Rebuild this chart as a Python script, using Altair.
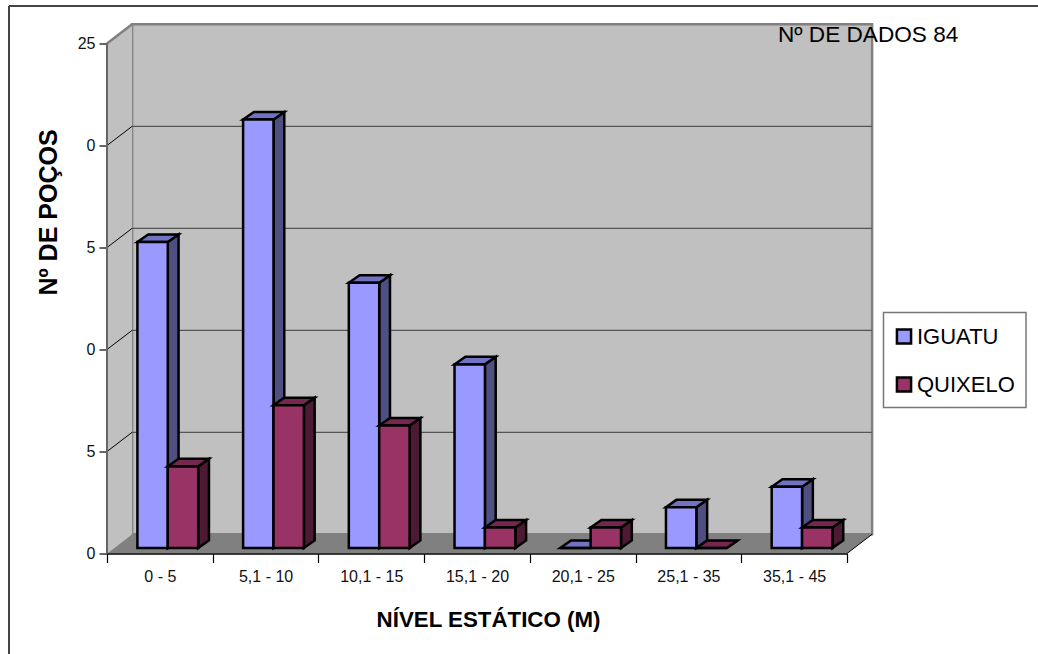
import altair as alt
import pandas as pd

# Well counts per static-level class
classes = ["0 - 5", "5,1 - 10", "10,1 - 15", "15,1 - 20", "20,1 - 25", "25,1 - 35", "35,1 - 45"]
iguatu = [15, 21, 13, 9, 0, 2, 3]
quixelo = [4, 7, 6, 1, 1, 0, 1]
series_names = ["IGUATU", "QUIXELO"]
y_ticks = [0, 5, 10, 15, 20, 25]

# Pseudo-3D geometry, in scale units (x: one class = 1, y: one well = 1)
WALL_DX, WALL_DY = 0.2375, 0.94
BAR_LEFT, BAR_W = 0.2875, 0.2875
BAR_DX, BAR_DY = 0.102, 0.37
BAR_BASE = 0.27

PW, PH = 740, 510
XS = alt.Scale(domain=[0, 7], nice=False, zero=False)
YS = alt.Scale(domain=[0, 25], nice=False, zero=False)
X = alt.X("x:Q", scale=XS)
Y = alt.Y("y:Q", scale=YS)
FONT = "Liberation Sans"

face_colours = {
    "IGUATU": {"front": "#9999ff", "side": "#4f4f82", "top": "#7272c4"},
    "QUIXELO": {"front": "#993366", "side": "#4d1a33", "top": "#752750"},
}


def bar_tables(name, values, slot):
    """Return the front, side and top faces of one series as tables."""
    front, side, top = [], [], []
    for i, v in enumerate(values):
        x0 = i + BAR_LEFT + slot * BAR_W
        x1 = x0 + BAR_W
        t = BAR_BASE + v
        front.append({"x": x0, "x2": x1, "y": BAR_BASE, "y2": t, "series": name})
        side += [
            {"id": i, "x": x1, "y": BAR_BASE, "y2": t},
            {"id": i, "x": x1 + BAR_DX, "y": BAR_BASE + BAR_DY, "y2": t + BAR_DY},
        ]
        top += [
            {"id": i, "y": t, "x": x0, "x2": x1},
            {"id": i, "y": t + BAR_DY, "x": x0 + BAR_DX, "x2": x1 + BAR_DX},
        ]
    return pd.DataFrame(front), pd.DataFrame(side), pd.DataFrame(top)


def bar_layers(name, values, slot):
    front, side, top = bar_tables(name, values, slot)
    edge = {"stroke": "black", "strokeWidth": 2.5, "strokeJoin": "miter"}
    colours = face_colours[name]
    return [
        alt.Chart(side).mark_area(fill=colours["side"], **edge).encode(
            x=X, y=Y, y2="y2:Q", detail="id:N"),
        alt.Chart(top).mark_area(orient="horizontal", fill=colours["top"], **edge).encode(
            y=Y, x=X, x2="x2:Q", detail="id:N"),
        alt.Chart(front).mark_rect(**edge).encode(
            x=X, x2="x2:Q", y=Y, y2="y2:Q",
            fill=alt.Fill(
                "series:N",
                scale=alt.Scale(domain=series_names, range=["#9999ff", "#993366"]),
                legend=alt.Legend(
                    title=None, orient="none", legendX=786, legendY=282, padding=0,
                    symbolType="square", symbolSize=200,
                    symbolStrokeColor="black", symbolStrokeWidth=2.5,
                    labelFont=FONT, labelFontSize=22, labelColor="black",
                    labelOffset=2, rowPadding=22, labelLimit=200,
                ),
            ),
        ),
    ]


# Axes live on an otherwise empty layer sharing the position scales
axes = alt.Chart(pd.DataFrame({"x": [0, 7], "y": [0, 25]})).mark_point(opacity=0).encode(
    x=alt.X("x:Q", scale=XS, axis=alt.Axis(
        values=list(range(8)), title="NÍVEL ESTÁTICO (M)", titleFont=FONT, titleFontSize=22.3,
        titleFontWeight="bold", titleX=381, titleY=55, titleColor="black",
        labelExpr=f"{classes!r}[datum.value] || ''", labelOffset=52.86, labelFont=FONT,
        labelFontSize=16, labelColor="#111111", labelPadding=6, labelFlush=False,
        labelOverlap=False, grid=False, domainColor="black", domainWidth=1.5,
        tickColor="black", tickSize=9, tickWidth=1.2, zindex=1,
    )),
    y=alt.Y("y:Q", scale=YS, axis=alt.Axis(
        values=y_ticks, title="Nº DE POÇOS", titleFont=FONT, titleFontSize=25,
        titleFontWeight="bold", titleColor="black", titleX=-46, titleY=168.5,
        labelFont=FONT, labelFontSize=16, labelColor="#111111", labelPadding=4,
        format="d", grid=False, domain=False, tickColor="black", tickSize=8, tickWidth=1.2,
    )),
)

# Chart-area frame: only its top and left edges fall on the page
frame_top = alt.Chart(pd.DataFrame({"k": [0]})).mark_rule(color="#444444", strokeWidth=2).encode(
    x=alt.value(-98), x2=alt.value(931), y=alt.value(-37.5))
frame_left = alt.Chart(pd.DataFrame({"k": [0]})).mark_rule(color="#444444", strokeWidth=2).encode(
    x=alt.value(-98), y=alt.value(-37.5), y2=alt.value(610.5))

# Back wall, side wall and floor
back_wall = alt.Chart(pd.DataFrame({
    "x": [WALL_DX], "x2": [7 + WALL_DX], "y": [WALL_DY], "y2": [25 + WALL_DY],
})).mark_rect(fill="#c0c0c0", stroke="#808080", strokeWidth=2.5).encode(
    x=X, x2="x2:Q", y=Y, y2="y2:Q")

side_wall = alt.Chart(pd.DataFrame({
    "x": [0, WALL_DX], "y": [0, WALL_DY], "y2": [25, 25 + WALL_DY],
})).mark_area(fill="#c0c0c0").encode(x=X, y=Y, y2="y2:Q")

floor = alt.Chart(pd.DataFrame({
    "y": [0, WALL_DY], "x": [0, WALL_DX], "x2": [7, 7 + WALL_DX],
})).mark_area(orient="horizontal", fill="#808080").encode(y=Y, x=X, x2="x2:Q")

# Gridlines along the back wall and their continuation across the side wall
grid_levels = pd.DataFrame({"level": y_ticks[1:-1]})
back_grid = alt.Chart(grid_levels).transform_calculate(
    y=f"datum.level + {WALL_DY}", x=f"{WALL_DX}", x2=f"{7 + WALL_DX}"
).mark_rule(color="#555555", strokeWidth=1.3).encode(x=X, x2="x2:Q", y=Y)

diag_rows = []
for level in y_ticks[1:-1]:
    diag_rows += [{"id": level, "x": 0, "y": level}, {"id": level, "x": WALL_DX, "y": level + WALL_DY}]
side_grid = alt.Chart(pd.DataFrame(diag_rows)).mark_line(color="black", strokeWidth=1).encode(
    x=X, y=Y, detail="id:N")

top_edge = alt.Chart(pd.DataFrame({"x": [0, WALL_DX], "y": [25, 25 + WALL_DY]})).mark_line(
    color="#808080", strokeWidth=2.5).encode(x=X, y=Y)

y_line = alt.Chart(pd.DataFrame({"x": [0], "y": [0], "y2": [25]})).mark_rule(
    color="#666666", strokeWidth=2).encode(x=X, y=Y, y2="y2:Q")

floor_edge = alt.Chart(pd.DataFrame({"x": [7, 7 + WALL_DX], "y": [0, WALL_DY]})).mark_line(
    color="black", strokeWidth=1).encode(x=X, y=Y)

# The title box of the value axis sits over the leading digits of its labels
title_box = alt.Chart(pd.DataFrame({"k": [0]})).mark_rect(fill="white").encode(
    x=alt.value(-43), x2=alt.value(-21), y=alt.value(80), y2=alt.value(325))

legend_box = alt.Chart(pd.DataFrame({"k": [0]})).mark_rect(
    fill="white", stroke="#777777", strokeWidth=1.5
).encode(x=alt.value(776.5), x2=alt.value(919), y=alt.value(269), y2=alt.value(364))

note = alt.Chart(pd.DataFrame({"t": ["Nº DE DADOS 84"]})).mark_text(
    font=FONT, fontSize=22.6, color="black", align="left", baseline="middle"
).encode(x=alt.value(671), y=alt.value(-8.5), text="t:N")

layers = [axes, frame_top, frame_left, title_box, back_wall, side_wall, floor, back_grid,
          side_grid, top_edge, y_line, floor_edge, legend_box]
layers += bar_layers("IGUATU", iguatu, 0)
layers += bar_layers("QUIXELO", quixelo, 1)
layers.append(note)

chart = alt.layer(*layers).properties(
    width=PW, height=PH,
    padding={"left": 107, "top": 43.5, "right": 191, "bottom": 100.5},
    autosize=alt.AutoSizeParams(type="none"),
    background="white",
).configure_view(stroke=None)

chart.save("out.html", embed_options={"renderer": "svg", "actions": False})
